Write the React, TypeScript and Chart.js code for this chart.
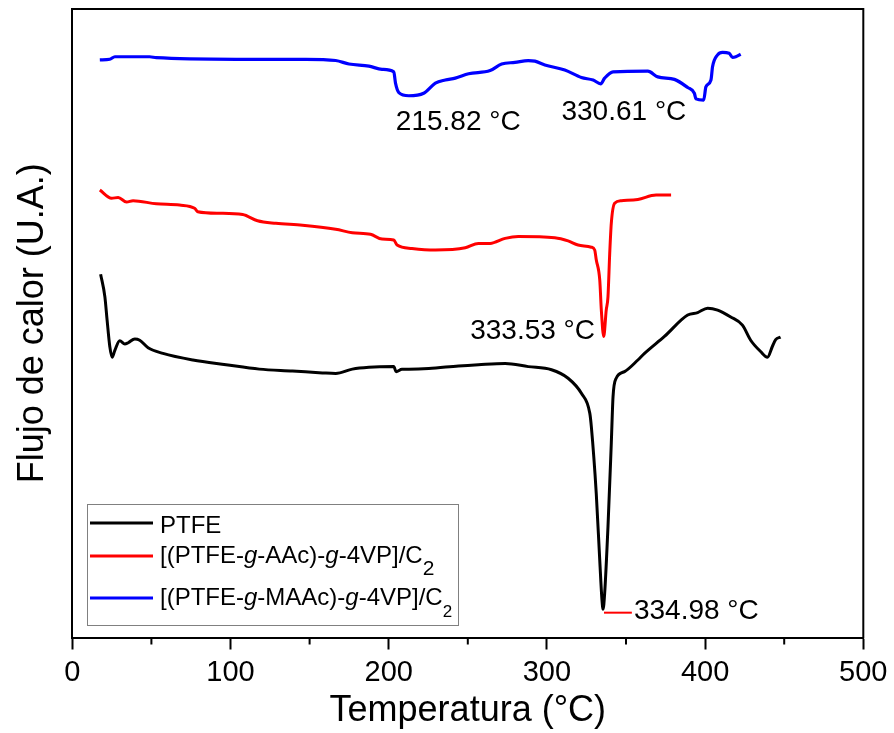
import React, { useEffect, useRef } from 'react';
import { Chart, registerables } from 'chart.js';

Chart.register(...registerables);

// ---- Data (temperature in °C, heat flow in arbitrary units) ----
const ptfeT = [17.9, 20.6, 22.0, 23.7, 25.2, 26.9, 30.0, 33.2, 35.3, 39.5, 42.6, 47.9, 57.3, 76.2, 97.2, 118.2, 139.2, 158.1, 166.5, 177.0, 187.5, 203.2, 204.7, 208.4, 212.7, 225.3, 244.1, 256.7, 273.6, 288.2, 302.9, 313.4, 321.8, 327.1, 328.1, 331.2, 333.4, 334.8, 335.5, 336.5, 338.6, 340.7, 341.8, 343.8, 349.1, 357.5, 361.7, 374.3, 389.0, 395.3, 401.6, 407.9, 416.2, 423.6, 428.8, 435.1, 439.4, 442.5, 444.6, 447.7];
const ptfeHF = [57.8, 54.2, 50.5, 46.3, 44.6, 45.7, 47.2, 46.7, 46.9, 47.5, 47.3, 46.1, 45.2, 44.15, 43.4, 42.7, 42.4, 42.1, 42.0, 42.7, 43.0, 43.1, 42.3, 42.7, 42.7, 42.8, 43.2, 43.4, 43.6, 43.1, 42.6, 41.25, 38.85, 35.7, 33.5, 22.9, 12.3, 6.0, 4.5, 7.0, 17.6, 30.9, 38.3, 41.25, 42.3, 44.15, 45.2, 47.9, 51.3, 51.7, 52.4, 52.1, 51.0, 49.7, 47.3, 45.5, 44.6, 46.3, 47.4, 47.8];

const aacT = [17.4, 24.8, 29.0, 34.3, 38.4, 53.1, 67.8, 77.3, 79.3, 93.0, 107.7, 117.1, 128.7, 145.5, 166.5, 177.0, 188.5, 195.8, 203.2, 205.3, 214.7, 229.5, 248.4, 256.7, 264.1, 273.6, 281.9, 305.0, 313.4, 319.7, 328.1, 330.2, 331.2, 333.4, 334.4, 335.9, 337.5, 338.6, 339.7, 340.7, 342.8, 347.0, 357.5, 369.0, 378.5];
const aacHF = [71.2, 69.9, 70.0, 69.3, 69.5, 69.0, 68.8, 68.3, 67.75, 67.5, 67.3, 66.3, 65.9, 65.6, 64.95, 64.4, 64.15, 63.4, 63.25, 62.45, 61.9, 61.65, 62.0, 62.7, 62.7, 63.5, 63.8, 63.6, 63.1, 62.45, 62.1, 61.65, 60.1, 56.9, 52.1, 47.9, 52.1, 54.2, 61.1, 65.9, 69.1, 69.5, 69.7, 70.4, 70.4];

const maacT = [17.4, 23.7, 26.9, 48.9, 53.1, 103.5, 147.6, 166.5, 174.9, 187.5, 195.8, 203.2, 204.3, 206.4, 212.7, 222.1, 229.5, 235.8, 242.1, 250.5, 264.1, 271.4, 279.8, 288.2, 292.4, 298.7, 311.3, 321.8, 329.2, 334.0, 336.5, 341.8, 363.8, 370.1, 380.6, 389.0, 393.2, 394.2, 399.1, 400.5, 403.7, 404.7, 407.9, 411.0, 415.2, 417.3, 419.4, 422.5];
const maacHF = [91.9, 92.0, 92.4, 92.4, 92.25, 92.0, 92.0, 91.8, 91.25, 90.9, 90.4, 90.0, 88.2, 86.7, 86.2, 86.6, 88.2, 88.7, 89.0, 89.7, 90.2, 91.25, 91.5, 91.8, 91.7, 91.1, 90.3, 89.1, 88.7, 88.1, 89.0, 90.0, 90.1, 89.2, 88.8, 87.5, 86.6, 85.7, 85.5, 87.6, 88.7, 90.8, 92.7, 93.1, 92.95, 92.3, 92.4, 92.8];

const minorTickValues = [50, 150, 250, 350, 450];

const peakLabels = ['215.82 °C', '330.61 °C', '333.53 °C', '334.98 °C'];
const peakLabelT = [204.5, 309.2, 251.5, 355.0];
const peakLabelHF = [81.9, 83.5, 48.65, 4.1];
const markerT = [336.1, 353.7];
const markerHF = [3.95, 3.95];

const seriesNames = ['PTFE', '[(PTFE-g-AAc)-g-4VP]/C2', '[(PTFE-g-MAAc)-g-4VP]/C2'];
const seriesColors = ['#000000', '#ff0000', '#0000ff'];

const FONT = "'Liberation Sans', Arial, sans-serif";

type Seg = { text: string; italic?: boolean; sub?: boolean };

// legend rich text pieces (italic "g", subscript "2")
const legendSegments: Seg[][] = [
  [{ text: 'PTFE' }],
  [{ text: '[(PTFE-' }, { text: 'g', italic: true }, { text: '-AAc)-' }, { text: 'g', italic: true }, { text: '-4VP]/C' }, { text: '2', sub: true }],
  [{ text: '[(PTFE-' }, { text: 'g', italic: true }, { text: '-MAAc)-' }, { text: 'g', italic: true }, { text: '-4VP]/C' }, { text: '2', sub: true }],
];

const toPoints = (xs: number[], ys: number[]) => xs.map((x, i) => ({ x, y: ys[i] }));

const decorPlugin = {
  id: 'decor',
  afterDraw(chart: any) {
    const { ctx, chartArea } = chart;
    const xs = chart.scales.x;
    const ys = chart.scales.y;
    ctx.save();
    // top and right frame
    ctx.strokeStyle = '#000';
    ctx.lineWidth = 2;
    ctx.beginPath();
    ctx.moveTo(chartArea.left - 1, chartArea.top);
    ctx.lineTo(chartArea.right, chartArea.top);
    ctx.lineTo(chartArea.right, chartArea.bottom + 1);
    ctx.stroke();
    // minor ticks
    ctx.beginPath();
    minorTickValues.forEach((v) => {
      const px = xs.getPixelForValue(v);
      ctx.moveTo(px, chartArea.bottom);
      ctx.lineTo(px, chartArea.bottom + 7);
    });
    ctx.stroke();

    // peak annotations
    ctx.fillStyle = '#000';
    ctx.font = `28px ${FONT}`;
    ctx.textBaseline = 'middle';
    ctx.textAlign = 'left';
    peakLabels.forEach((t, i) => {
      ctx.fillText(t, xs.getPixelForValue(peakLabelT[i]), ys.getPixelForValue(peakLabelHF[i]));
    });
    // red marker line
    ctx.strokeStyle = '#ff0000';
    ctx.lineWidth = 2;
    ctx.beginPath();
    ctx.moveTo(xs.getPixelForValue(markerT[0]), ys.getPixelForValue(markerHF[0]));
    ctx.lineTo(xs.getPixelForValue(markerT[1]), ys.getPixelForValue(markerHF[1]));
    ctx.stroke();

    // legend
    const boxL = 87.5, boxT = 504.5, boxR = 458.5, boxB = 625.5;
    ctx.fillStyle = '#fff';
    ctx.fillRect(boxL, boxT, boxR - boxL, boxB - boxT);
    ctx.strokeStyle = '#808080';
    ctx.lineWidth = 1;
    ctx.strokeRect(boxL, boxT, boxR - boxL, boxB - boxT);
    const lineY = [523, 556, 598];
    const baseY = [532.5, 563, 605];
    const subSize = [24, 21, 17];
    const subDrop = [0, 12, 12];
    seriesNames.forEach((name, i) => {
      ctx.strokeStyle = seriesColors[i];
      ctx.lineWidth = 3;
      ctx.beginPath();
      ctx.moveTo(90, lineY[i]);
      ctx.lineTo(153, lineY[i]);
      ctx.stroke();
      let x = 160;
      ctx.fillStyle = '#000';
      ctx.textBaseline = 'alphabetic';
      legendSegments[i].forEach((seg) => {
        if (seg.sub) {
          ctx.font = `${subSize[i]}px ${FONT}`;
          ctx.fillText(seg.text, x, baseY[i] + subDrop[i]);
          x += ctx.measureText(seg.text).width;
        } else {
          ctx.font = `${seg.italic ? 'italic ' : ''}24px ${FONT}`;
          ctx.fillText(seg.text, x, baseY[i]);
          x += ctx.measureText(seg.text).width;
        }
      });
    });
    ctx.restore();
  },
};

export default function App() {
  const ref = useRef<HTMLCanvasElement>(null);
  useEffect(() => {
    document.body.style.margin = '0';
    const canvas = ref.current!;
    const chart = new Chart(canvas, {
      type: 'line',
      data: {
        datasets: [
          { label: seriesNames[0], data: toPoints(ptfeT, ptfeHF), borderColor: seriesColors[0], borderWidth: 3, pointRadius: 0, cubicInterpolationMode: 'monotone', fill: false },
          { label: seriesNames[1], data: toPoints(aacT, aacHF), borderColor: seriesColors[1], borderWidth: 3, pointRadius: 0, cubicInterpolationMode: 'monotone', fill: false },
          { label: seriesNames[2], data: toPoints(maacT, maacHF), borderColor: seriesColors[2], borderWidth: 3.2, pointRadius: 0, cubicInterpolationMode: 'monotone', fill: false },
        ],
      },
      options: {
        responsive: false,
        animation: false,
        devicePixelRatio: 1,
        layout: { padding: { left: 4, top: 9, right: 24, bottom: 0 } },
        plugins: { legend: { display: false }, tooltip: { enabled: false } },
        scales: {
          x: {
            type: 'linear',
            min: 0,
            max: 500,
            grid: { display: true, drawOnChartArea: false, drawTicks: true, tickLength: 12, tickColor: '#000', tickWidth: 2 },
            border: { display: true, color: '#000', width: 2 },
            ticks: { stepSize: 100, padding: 6.5, color: '#000', font: { family: FONT, size: 29 }, maxRotation: 0 },
            title: { display: true, text: 'Temperatura (°C)', color: '#000', font: { family: FONT, size: 36 }, padding: { top: -7.5, bottom: 0 } },
          },
          y: {
            type: 'linear',
            min: 0,
            max: 100,
            grid: { display: false, drawTicks: false },
            border: { display: true, color: '#000', width: 2 },
            ticks: { display: false },
            title: { display: true, text: 'Flujo de calor (U.A.)', color: '#000', font: { family: FONT, size: 36 }, padding: { top: 7.4, bottom: 17.7 } },
          },
        },
      },
      plugins: [decorPlugin],
    } as any);
    return () => chart.destroy();
  }, []);
  return (
    <div style={{ width: 894, height: 733, background: '#fff' }}>
      <canvas ref={ref} width={894} height={733} style={{ display: 'block' }} />
    </div>
  );
}
